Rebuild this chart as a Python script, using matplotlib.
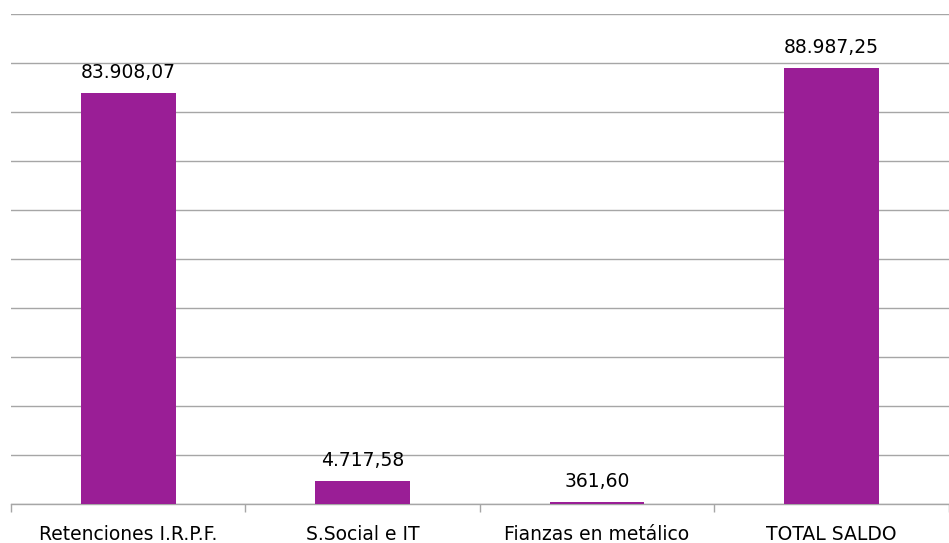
"""Saldos por concepto - gráfico de barras."""

import matplotlib.pyplot as plt
import numpy as np

categorias = ["Retenciones I.R.P.F.", "S.Social e IT", "Fianzas en metálico", "TOTAL SALDO"]
saldos = [83908.07, 4717.58, 361.60, 88987.25]
etiquetas = ["83.908,07", "4.717,58", "361,60", "88.987,25"]

color_barra = "#9A1E96"
color_rejilla = "#A6A6A6"

fig = plt.figure(figsize=(9.49, 5.43), dpi=100)
ax = fig.add_axes([0.0116, 0.0718, 0.988, 0.902])

x = np.arange(len(categorias))
ax.bar(x, saldos, width=0.405, color=color_barra, zorder=3)

for xi, v, txt in zip(x, saldos, etiquetas):
    ax.annotate(txt, (xi, v), xytext=(0, 8), textcoords="offset points",
                ha="center", va="bottom", fontsize=13.5, color="#000000")

ax.set_xlim(-0.5, len(categorias) - 0.5)
ax.set_ylim(0, 100000)
ax.set_yticks(np.arange(0, 100001, 10000))
ax.yaxis.grid(True, color=color_rejilla, linewidth=1.0, zorder=0)
ax.tick_params(axis="y", length=0, labelleft=False)

ax.set_xticks(x)
ax.set_xticklabels(categorias, fontsize=13.5)
ax.tick_params(axis="x", which="major", length=0, pad=15)
ax.set_xticks(np.arange(-0.5, len(categorias)), minor=True)
ax.tick_params(axis="x", which="minor", length=6, color=color_rejilla, width=1.0)

for s in ("left", "right", "top"):
    ax.spines[s].set_visible(False)
ax.spines["bottom"].set_color(color_rejilla)
ax.spines["bottom"].set_linewidth(1.0)

fig.savefig("out.png", dpi=100)
plt.close(fig)
